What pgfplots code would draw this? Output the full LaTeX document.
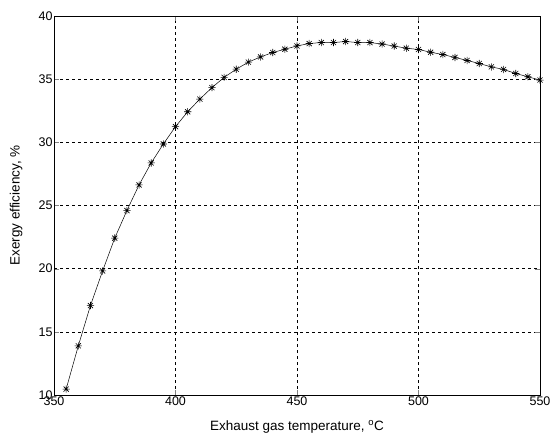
\documentclass[border=0pt]{standalone}
\usepackage{fontspec}
\setmainfont{Liberation Sans}
\usepackage{pgfplots}
\pgfplotsset{compat=1.18}

% eight-armed asterisk: a plus and a cross laid over each other
\pgfdeclareplotmark{starburst}{%
  \pgfpathmoveto{\pgfqpoint{0pt}{\pgfplotmarksize}}%
  \pgfpathlineto{\pgfqpoint{0pt}{-\pgfplotmarksize}}%
  \pgfpathmoveto{\pgfqpoint{\pgfplotmarksize}{0pt}}%
  \pgfpathlineto{\pgfqpoint{-\pgfplotmarksize}{0pt}}%
  \pgfpathmoveto{\pgfqpoint{0.707\pgfplotmarksize}{0.707\pgfplotmarksize}}%
  \pgfpathlineto{\pgfqpoint{-0.707\pgfplotmarksize}{-0.707\pgfplotmarksize}}%
  \pgfpathmoveto{\pgfqpoint{-0.707\pgfplotmarksize}{0.707\pgfplotmarksize}}%
  \pgfpathlineto{\pgfqpoint{0.707\pgfplotmarksize}{-0.707\pgfplotmarksize}}%
  \pgfusepathqstroke}

\begin{document}
\begin{tikzpicture}[x=1pt,y=1pt]
\begin{axis}[
  at={(54pt,44pt)}, anchor=south west,
  scale only axis,
  width=486pt, height=379pt,
  xmin=350, xmax=550, ymin=10, ymax=40,
  xtick={350,400,...,550}, ytick={10,15,...,40},
  /pgf/number format/assume math mode=true,
  tick label style={font=\fontsize{12.5}{14}\selectfont},
  label style={font=\fontsize{13.5}{15}\selectfont},
  xticklabel style={yshift=2pt},
  yticklabel style={xshift=2pt},
  tick align=inside, tick pos=both,
  major tick length=5pt,
  grid=major,
  major grid style={black, dash pattern=on 3pt off 3pt, line width=0.5pt},
  axis line style={black, line width=0.7pt},
  xlabel={Exhaust gas temperature, \textsuperscript{o}C},
  ylabel={Exergy efficiency, \%},
  xlabel style={at={(axis description cs:0.5,0)}, anchor=north, yshift=-22pt},
  ylabel style={at={(axis description cs:0,0.5)}, anchor=south, yshift=28pt},
]
\addplot[black, line width=0.5pt, mark=starburst, mark size=3.6pt,
  mark options={line width=0.6pt}] coordinates {
  (355,10.47) (360,13.89) (365,17.08) (370,19.82) (375,22.42)
  (380,24.60) (385,26.63) (390,28.37) (395,29.87) (400,31.24)
  (405,32.42) (410,33.42) (415,34.33) (420,35.14) (425,35.79)
  (430,36.35) (435,36.76) (440,37.11) (445,37.37) (450,37.63)
  (455,37.82) (460,37.90) (465,37.90) (470,37.98) (475,37.90)
  (480,37.90) (485,37.78) (490,37.62) (495,37.45) (500,37.35)
  (505,37.13) (510,36.95) (515,36.72) (520,36.48) (525,36.24)
  (530,35.97) (535,35.77) (540,35.45) (545,35.19) (550,34.93)
};
\end{axis}
\pgfresetboundingbox
\path (0,0) rectangle (553,439);
\end{tikzpicture}
\end{document}
